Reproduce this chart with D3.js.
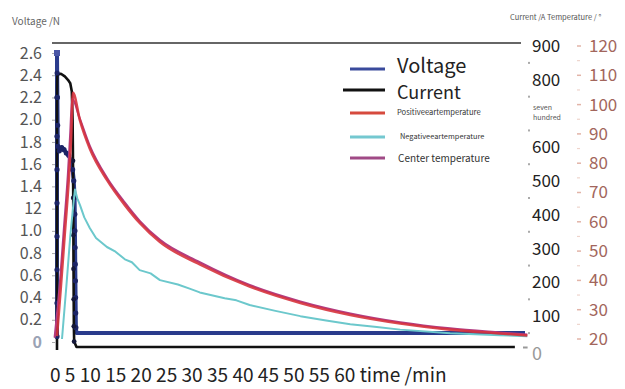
<!DOCTYPE html>
<html><head><meta charset="utf-8">
<script src="https://cdn.jsdelivr.net/npm/d3@7"></script>
<style>
body{margin:0;background:#fff}
svg{display:block}
text{font-family:"Noto Sans CJK SC","Noto Sans",sans-serif}
</style>
</head><body>
<svg id="c" width="625" height="389"></svg>
<script>
// ---------- DATA ----------
const vTicks  = [0,0.2,0.4,0.6,0.8,1.0,1.2,1.4,1.6,1.8,2.0,2.2,2.4,2.6];
const vLabels = ["0","0.2","0.4","0.6","0.8","1.0","12","1.4","1.6","1.8","2.0","2.2","2.4","2.6"];
const iTicks  = [0,100,200,300,400,500,600,700,800,900];
const iLabels = ["0","100","200","300","400","500","600","seven hundred","800","900"];
const tTicks  = [20,30,40,50,60,70,80,90,100,110,120];
const tLabels = ["20","30","40","50","60","70","80","90","100","110","120"];
const xLabels = ["0","5","10","15","20","25","30","35","40","45","50","55","60"];
const xTitle  = "time /min";
const leftTitle  = "Voltage /N";
const rightTitle = "Current /A Temperature / °";
const seriesNames = ["Voltage","Current","Positiveeartemperature","Negativeeartemperature","Center temperature"];

// voltage (V) vs time (min)
const timeVoltage = [0,0,0,0,0,0,0,0,0,0.02,0.05,0.08,0.1,0.3,0.6,0.9,1.2,1.5,1.8,2.0,2.15,2.25,2.28,2.3,2.32,2.34,2.36,2.38,2.4,2.42,2.5,5,10,15,20,25,30,35,40,45,50,55,60];
const voltage     = [0.05,0.35,0.65,0.95,1.25,1.55,1.85,2.2,2.6,2.42,2.2,1.95,1.76,1.72,1.75,1.73,1.7,1.68,1.63,1.55,1.45,1.3,1.15,1.0,0.85,0.7,0.55,0.4,0.26,0.13,0.08,0.08,0.08,0.08,0.08,0.08,0.08,0.08,0.08,0.08,0.08,0.08,0.08];
// current (A) vs time (min)
const timeCurrent = [0,0,0,0,0,0,0,0.02,0.04,0.1,0.5,1.0,1.4,1.7,1.9,2.0,2.05,2.08,2.1,2.12,2.14,2.16,2.2,2.5,10,20,30,40,50,58.7];
const current     = [0,120,240,360,480,600,720,790,812,816,818,810,800,790,765,680,560,450,340,240,150,70,25,9,9,9,9,9,9,9];
// positive ear temperature (°C)
const timePos = [0,0.5,1.0,1.5,1.8,2.05,2.95,4.2,6.4,8.7,10.6,13.2,18.3,24.7,31.2,37.6,44,50.4,56.8,60.3];
const posTemp = [21,38,56,74,88,104,94.5,85,74.3,65.7,59.6,53.1,45.5,37.9,32.3,28.2,25.3,23.2,21.9,21.2];
// negative ear temperature (°C)
const timeNeg = [0.64,1.2,1.7,2.1,2.3,2.6,2.95,3.5,4.2,5.0,6.4,7.5,8.7,9.6,10.6,12.0,13.2,15.5,17.0,18.3,21.5,23.0,24.7,28.0,31.2,34.5,37.6,41,44,50.4,56.8,60.3];
const negTemp = [20,38,55,66,71,68,65.7,61.5,57.9,54.5,51.4,49.8,47.2,46.2,43.5,42.4,40.1,38.6,37.2,35.9,33.9,33.2,31.6,29.6,27.8,26.3,25.0,24.1,23.2,22.0,21.3,20.9];
// center temperature (°C)
const timeCenter = [-0.3,0.4,0.9,1.4,1.7,1.95,2.9,4.2,6.4,8.7,10.6,13.2,18.3,24.7,31.2,37.6,44,50.4,56.8,60.3];
const centerTemp = [20.5,40,58,76,90,102,95.4,85.9,75,66.5,60.3,53.8,46.2,38.4,32.8,28.7,25.7,23.6,22.2,21.5];

// ---------- CHART ----------
const svg = d3.select("#c");
const x  = d3.scaleLinear([0,60],[57,525]);
const yV = d3.scaleLinear([0,2.6],[342,53]);
const yI = d3.scaleLinear([0,900],[350,46]);
const yT = d3.scaleLinear([20,120],[339,46]);

const col = {v:"#2a3b8c", i:"#111111", p:"#d6333d", n:"#6cc8cc", c:"#b23c82"};
const numFont = '"Noto Sans","Noto Sans CJK SC",sans-serif';

// titles
svg.append("text").attr("x",12).attr("y",25).attr("font-size",10).attr("fill","#666").text(leftTitle);
svg.append("text").attr("x",510).attr("y",20).attr("font-size",7.5).attr("fill","#555").text(rightTitle);

// top frame line
svg.append("line").attr("x1",52).attr("x2",521).attr("y1",yI(900)-3).attr("y2",yI(900)-3)
  .attr("stroke","#333").attr("stroke-width",1.5);

// left axis
const axL = svg.append("g").attr("transform","translate(55,0)")
  .call(d3.axisLeft(yV).tickValues(vTicks).tickFormat((d,i)=>vLabels[i]).tickSize(3).tickPadding(10));
axL.select(".domain").remove();
axL.selectAll(".tick line").attr("stroke","#aaa");
axL.selectAll(".tick text").attr("font-size",16).attr("fill","#555").attr("font-family",numFont);
axL.selectAll(".tick text").filter(d=>d===0).attr("fill","#9aa3b5").attr("font-weight","bold");

// right current axis
const axI = svg.append("g").attr("transform","translate(529,0)")
  .call(d3.axisRight(yI).tickValues(iTicks).tickFormat((d,i)=>iLabels[i]).tickSize(0).tickPadding(3));
axI.select(".domain").remove();
axI.selectAll(".tick text").attr("font-size",17).attr("fill","#222").attr("font-family",numFont);
axI.selectAll(".tick text").filter(d=>d===0).attr("fill","#999").attr("font-size",18).attr("dy","0.55em");
axI.selectAll(".tick text").filter(d=>d===700).each(function(){
  const t = d3.select(this); const words = iLabels[7].split(" ");
  t.text(null).attr("font-size",7).attr("fill","#555").attr("dy",null);
  t.append("tspan").attr("x",4).attr("y",-4).text(words[0]);
  t.append("tspan").attr("x",4).attr("y",6).text(words[1]);
});
// minor current ticks (dots)
svg.selectAll("rect.mi").data(iTicks.slice(0,9)).join("rect").attr("class","mi")
  .attr("x",528).attr("y",d=>yI(d+50)-1).attr("width",2).attr("height",2).attr("fill","#aaa");
// small bracket at right end of plot
svg.append("path").attr("d",`M523,${yI(50)+14}H527V${yI(0)-2}H523`).attr("fill","none").attr("stroke","#999").attr("stroke-width",1.2);

// right temperature axis
const axT = svg.append("g").attr("transform","translate(582,0)")
  .call(d3.axisRight(yT).tickValues(tTicks).tickFormat((d,i)=>tLabels[i]).tickSize(0).tickPadding(7));
axT.select(".domain").remove();
axT.selectAll(".tick text").attr("font-size",17).attr("fill","#a2665c").attr("font-family",numFont);
svg.selectAll("line.tt").data(tTicks).join("line").attr("class","tt")
  .attr("x1",577).attr("x2",581).attr("y1",d=>yT(d)).attr("y2",d=>yT(d)).attr("stroke","#e2b4a8").attr("stroke-width",1.5);
svg.selectAll("line.tm").data(tTicks.slice(0,10)).join("line").attr("class","tm")
  .attr("x1",577).attr("x2",580).attr("y1",d=>yT(d+5)).attr("y2",d=>yT(d+5)).attr("stroke","#eed4cc").attr("stroke-width",1.2);

// series
function zip(a,b){return a.map((d,i)=>[d,b[i]]);}
const lineV = d3.line().x(d=>x(d[0])).y(d=>yV(d[1]));
const lineI = d3.line().x(d=>x(d[0])).y(d=>yI(d[1]));
const lineT = d3.line().x(d=>x(d[0])).y(d=>yT(d[1])).curve(d3.curveMonotoneX);
const lineTL = d3.line().x(d=>x(d[0])).y(d=>yT(d[1]));

const vData = zip(timeVoltage,voltage), iData = zip(timeCurrent,current);
svg.append("path").attr("d",lineV(vData)).attr("fill","none").attr("stroke",col.v).attr("stroke-width",4).attr("stroke-linejoin","round");
svg.append("path").attr("d",lineI(iData)).attr("fill","none").attr("stroke",col.i).attr("stroke-width",2.6).attr("stroke-linejoin","round");
svg.selectAll("circle.vm").data(vData.filter(d=>d[0]<2.45)).join("circle").attr("class","vm")
  .attr("cx",d=>x(d[0])).attr("cy",d=>yV(d[1])).attr("r",2.6).attr("fill","#1c2466");
svg.selectAll("circle.im").data(iData.filter(d=>d[0]>2.0&&d[0]<2.3)).join("circle").attr("class","im")
  .attr("cx",d=>x(d[0])).attr("cy",d=>yI(d[1])).attr("r",2.4).attr("fill","#15183a");
svg.append("rect").attr("x",x(0)-3).attr("y",yV(2.6)-3).attr("width",6).attr("height",6).attr("fill","#4a56a6");

svg.append("path").attr("d",lineTL(zip(timeNeg,negTemp))).attr("fill","none").attr("stroke",col.n).attr("stroke-width",2).attr("stroke-linejoin","round");
svg.append("path").attr("d",lineT(zip(timeCenter,centerTemp))).attr("fill","none").attr("stroke",col.c).attr("stroke-width",2.2).attr("stroke-linejoin","round");
svg.append("path").attr("d",lineT(zip(timePos,posTemp))).attr("fill","none").attr("stroke",col.p).attr("stroke-width",2.6).attr("stroke-linejoin","round").attr("opacity",0.9);

// legend
const leg = [
  {n:seriesNames[0], c:"#3a4a9c", y:69, x1:350, fs:20, tx:397, ty:73, fill:"#222", f:numFont},
  {n:seriesNames[1], c:"#111",    y:90, x1:343, fs:18, tx:397, ty:99, fill:"#222", f:numFont},
  {n:seriesNames[2], c:"#d64a3e", y:113, x1:350, fs:7.6, tx:397, ty:115, fill:"#333", f:null},
  {n:seriesNames[3], c:"#74c8d0", y:137, x1:350, fs:7.4, tx:400, ty:139, fill:"#333", f:null},
  {n:seriesNames[4], c:"#a04a86", y:158, x1:350, fs:10, tx:398, ty:162, fill:"#333", f:null}
];
const lg = svg.append("g");
lg.selectAll("line").data(leg).join("line").attr("x1",d=>d.x1).attr("x2",385).attr("y1",d=>d.y).attr("y2",d=>d.y)
  .attr("stroke",d=>d.c).attr("stroke-width",3);
lg.selectAll("text").data(leg).join("text").attr("x",d=>d.tx).attr("y",d=>d.ty).attr("font-size",d=>d.fs)
  .attr("font-family",d=>d.f).attr("fill",d=>d.fill).text(d=>d.n);

// x labels (one running line, as in the picture)
const xt = svg.append("text").attr("x",50).attr("y",382).attr("font-size",19).attr("fill","#222");
xLabels.forEach((s)=>xt.append("tspan").text(s+" "));
xt.append("tspan").text(xTitle);
const w = xt.node().getComputedTextLength();
const target = 397;
xt.attr("transform",`translate(50,0) scale(${target/w},1) translate(-50,0)`);
</script>
</body></html>
